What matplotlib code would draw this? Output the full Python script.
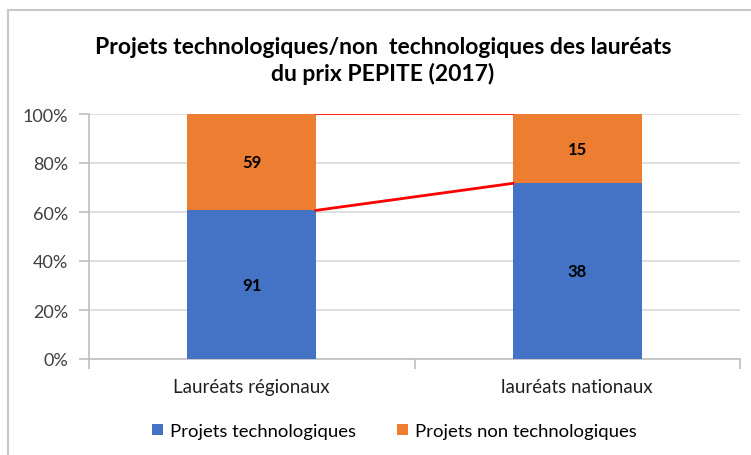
import matplotlib
matplotlib.use("Agg")
import matplotlib.pyplot as plt
from matplotlib.lines import Line2D
import numpy as np

categories = ["Lauréats régionaux", "lauréats nationaux"]
tech = [91, 38]
non_tech = [59, 15]
series_names = ["Projets technologiques", "Projets non technologiques"]
title = "Projets technologiques/non  technologiques des lauréats\ndu prix PEPITE (2017)"
yticks = [0, 20, 40, 60, 80, 100]

blue = "#4472C4"
orange = "#ED7D31"
grid_c = "#D9D9D9"
axis_c = "#BFBFBF"

plt.rcParams['font.family'] = ['Lato', 'DejaVu Sans']

W, H = 751, 456
fig = plt.figure(figsize=(W / 100, H / 100), dpi=100)

# outer chart border (top and left visible)
fig.add_artist(Line2D([8 / W, 8 / W], [0, 1 - 11 / H], transform=fig.transFigure, color="#C8C8C8", lw=1.5))
fig.add_artist(Line2D([8 / W, 1], [1 - 11 / H, 1 - 11 / H], transform=fig.transFigure, color="#C8C8C8", lw=1.5))

left, right = 89 / W, 740 / W
bottom, top = 1 - 360 / H, 1 - 115 / H
ax = fig.add_axes([left, bottom, right - left, top - bottom])

tech_a = np.array(tech, float)
non_a = np.array(non_tech, float)
tot = tech_a + non_a
tp = tech_a / tot * 100
npct = non_a / tot * 100

x = np.arange(len(categories))
w = 0.395
ax.bar(x, tp, w, color=blue, label=series_names[0], zorder=3)
ax.bar(x, npct, w, bottom=tp, color=orange, label=series_names[1], zorder=3)

# series lines
ax.plot([x[0] + w / 2, x[1] - w / 2], [tp[0], tp[1]], color="#FF0000", lw=2, zorder=4)
ax.plot([x[0] + w / 2, x[1] - w / 2], [100, 100], color="#FF0000", lw=1.2, zorder=4)

for i in range(len(categories)):
    ax.text(x[i], tp[i] / 2, str(tech[i]), ha="center", va="center", fontsize=12, fontweight="bold", color="black", zorder=5)
    ax.text(x[i], tp[i] + npct[i] / 2, str(non_tech[i]), ha="center", va="center", fontsize=12, fontweight="bold", color="black", zorder=5)

ax.set_xlim(-0.5, 1.5)
ax.set_ylim(0, 100)
ax.set_yticks(yticks)
ax.set_yticklabels([f"{v}%" for v in yticks], fontsize=13, color="#404040")
ax.yaxis.grid(True, color=grid_c, lw=1.2, zorder=0)
ax.set_xticks(x)
ax.set_xticklabels(categories, fontsize=13.5, color="#202020")
ax.set_xticks([-0.5, 0.5, 1.5], minor=True)
ax.tick_params(axis="x", which="major", length=0, pad=14)
ax.tick_params(axis="x", which="minor", length=7, color=axis_c, width=1.2)
ax.tick_params(axis="y", length=7, color=axis_c, width=1.2, pad=8)
for s in ["top", "right"]:
    ax.spines[s].set_visible(False)
for s in ["left", "bottom"]:
    ax.spines[s].set_color(axis_c)
    ax.spines[s].set_linewidth(1.2)

fig.text(0.51, 1 - 61 / H, title, ha="center", va="center", fontsize=16.5, fontweight="bold", color="black", linespacing=1.3)

fig.legend(loc="center", bbox_to_anchor=(0.525, 1 - 432 / H), ncol=2, frameon=False, fontsize=13.3,
           handlelength=0.6, handleheight=0.6, columnspacing=2.2, handletextpad=0.4)

fig.savefig("out.png", dpi=100, facecolor="white")
